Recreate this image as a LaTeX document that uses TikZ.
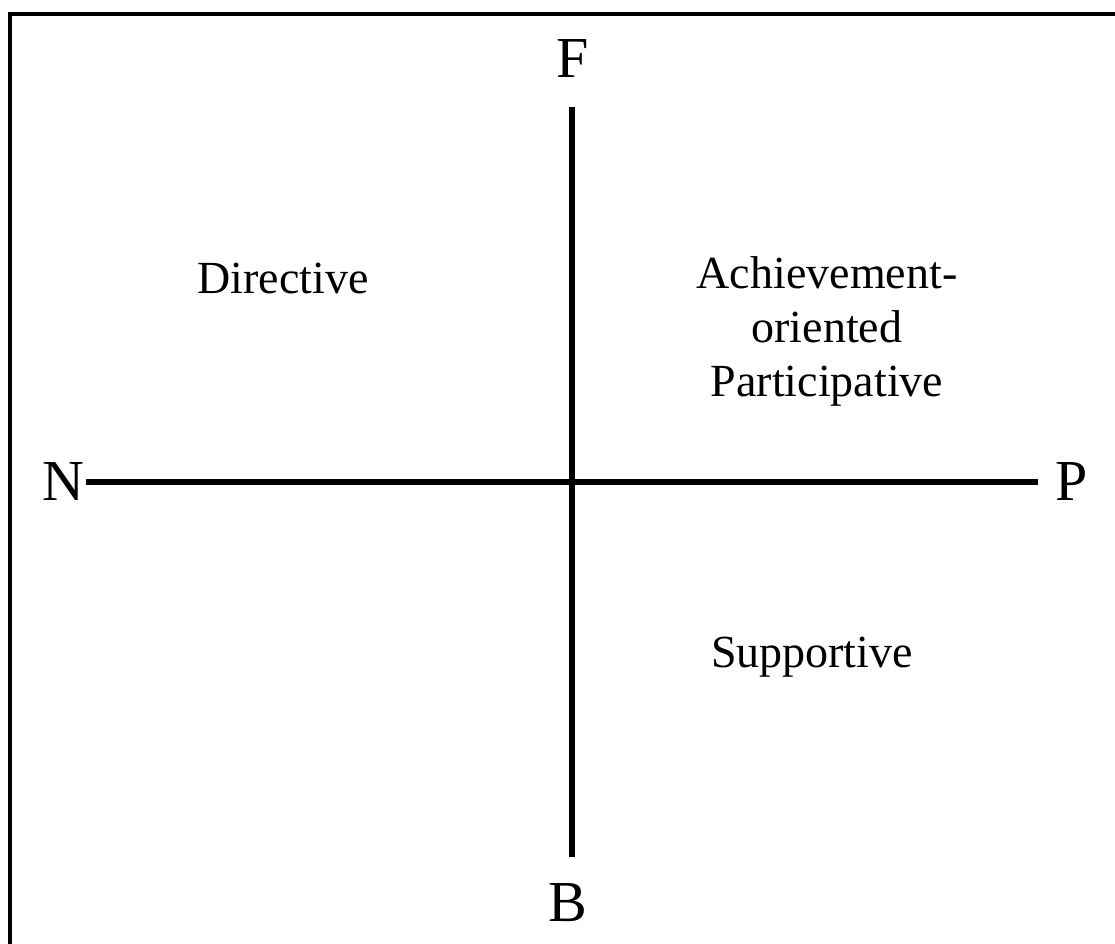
\documentclass[tikz,border=0pt]{standalone}
\usepackage{fontspec}
\setmainfont{Liberation Serif}
\begin{document}
\begin{tikzpicture}[x=1pt,y=-1pt,
  axislabel/.style={font=\fontsize{58}{58}\selectfont, anchor=base, inner sep=0pt},
  stylelabel/.style={font=\fontsize{46}{54}\selectfont, anchor=base, align=center, inner sep=0pt},
  axis/.style={line width=5.5pt},
  frame/.style={line width=4pt}]
\useasboundingbox (0,0) rectangle (1115,943);
\clip (0,0) rectangle (1115,943);
\fill[white] (0,0) rectangle (1115,943);
\draw[frame] (10,960) -- (10,14) -- (1130,14);
% axis labels
\node[axislabel] (F) at (573,77) {F};
\node[axislabel] (B) at (568,921) {B};
\node[axislabel] (N) at (63,500) {N};
\node[axislabel] (P) at (1072,500) {P};
% axis ends
\coordinate (top) at (572,107);
\coordinate (bottom) at (572,857);
\coordinate (left) at (86,482);
\coordinate (right) at (1038,482);
\draw[axis] (top) -- (bottom);
\draw[axis] (left) -- (right);
% quadrant labels
\node[stylelabel] (dir) at (283,293) {Directive};
\node[stylelabel] (ach) at (827,396) {Achievement-\\oriented\\Participative};
\node[stylelabel] (sup) at (812,667) {Supportive};
\end{tikzpicture}
\end{document}
